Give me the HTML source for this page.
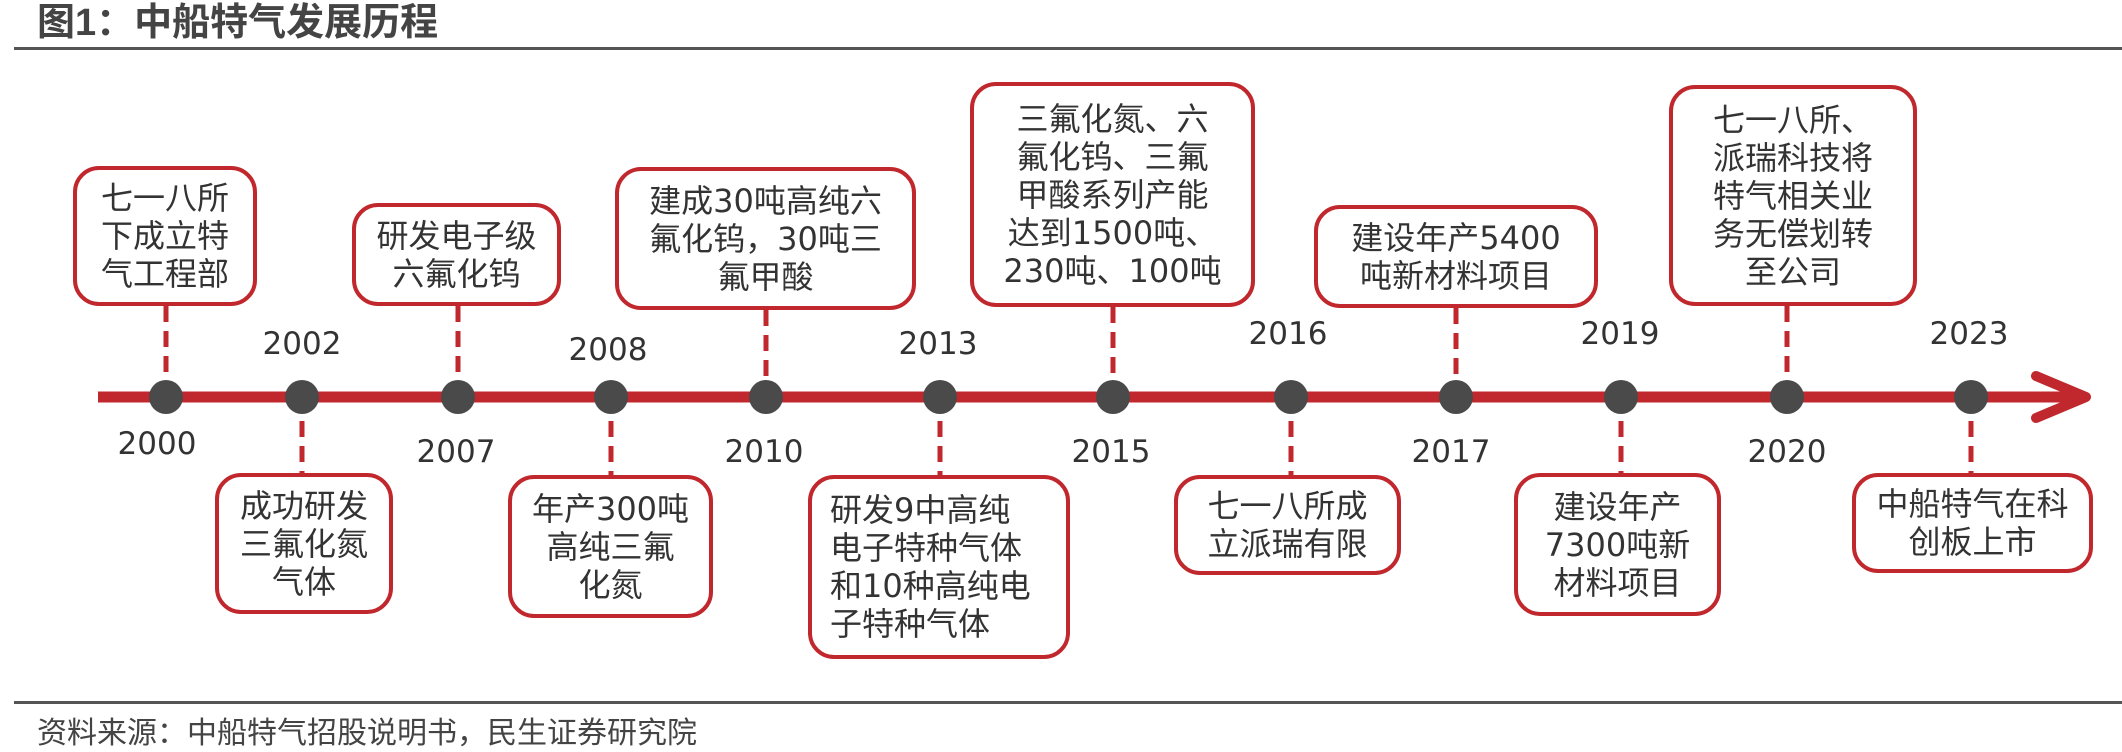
<!DOCTYPE html>
<html><head><meta charset="utf-8"><style>
body{margin:0;width:2122px;height:749px;background:#fff;position:relative;overflow:hidden;font-family:"Liberation Sans","Noto Sans CJK SC",sans-serif;}
.t{position:absolute;left:37px;top:0px;font-size:38px;line-height:46px;font-weight:bold;color:#444;}
.rule{position:absolute;left:14px;right:0;height:3px;background:#555;}
.f{position:absolute;left:37px;top:708px;font-size:30px;color:#444;}
.b{position:absolute;box-sizing:border-box;border:4px solid #c0282d;border-radius:26px;display:flex;align-items:center;justify-content:center;text-align:center;font-family:"DejaVu Sans","Noto Sans CJK SC",sans-serif;font-size:32px;line-height:38px;color:#333;background:#fff;}
.y{position:absolute;font-family:"DejaVu Sans",sans-serif;font-size:31px;color:#333;width:120px;margin-left:-60px;text-align:center;}
</style></head><body>
<div class="t">图1：中船特气发展历程</div>
<div class="rule" style="top:47px"></div>
<div class="rule" style="top:701px"></div>
<div class="f">资料来源：中船特气招股说明书，民生证券研究院</div>
<svg style="position:absolute;left:0;top:0" width="2122" height="749">
<g stroke="#c0282d" stroke-width="5" stroke-dasharray="16,9">
<line x1="166" y1="306" x2="166" y2="396"/>
<line x1="458" y1="306" x2="458" y2="396"/>
<line x1="766" y1="310" x2="766" y2="396"/>
<line x1="1113" y1="307" x2="1113" y2="396"/>
<line x1="1456" y1="308" x2="1456" y2="396"/>
<line x1="1787" y1="306" x2="1787" y2="396"/>
<line x1="302" y1="396" x2="302" y2="473"/>
<line x1="611" y1="396" x2="611" y2="475"/>
<line x1="940" y1="396" x2="940" y2="475"/>
<line x1="1291" y1="396" x2="1291" y2="475"/>
<line x1="1621" y1="396" x2="1621" y2="473"/>
<line x1="1971" y1="396" x2="1971" y2="473"/>
</g>
<line x1="98" y1="397" x2="2080" y2="397" stroke="#c0282d" stroke-width="11"/>
<polyline points="2036,376 2086,397 2036,418" fill="none" stroke="#c0282d" stroke-width="10" stroke-linecap="round" stroke-linejoin="round"/>
<g fill="#4a4a4a">
<circle cx="166" cy="397" r="17"/><circle cx="302" cy="397" r="17"/><circle cx="458" cy="397" r="17"/>
<circle cx="611" cy="397" r="17"/><circle cx="766" cy="397" r="17"/><circle cx="940" cy="397" r="17"/>
<circle cx="1113" cy="397" r="17"/><circle cx="1291" cy="397" r="17"/><circle cx="1456" cy="397" r="17"/>
<circle cx="1621" cy="397" r="17"/><circle cx="1787" cy="397" r="17"/><circle cx="1971" cy="397" r="17"/>
</g>
</svg>
<div class="y" style="left:302px;top:326px">2002</div>
<div class="y" style="left:608px;top:332px">2008</div>
<div class="y" style="left:938px;top:326px">2013</div>
<div class="y" style="left:1288px;top:316px">2016</div>
<div class="y" style="left:1620px;top:316px">2019</div>
<div class="y" style="left:1969px;top:316px">2023</div>
<div class="y" style="left:157px;top:426px">2000</div>
<div class="y" style="left:456px;top:434px">2007</div>
<div class="y" style="left:764px;top:434px">2010</div>
<div class="y" style="left:1111px;top:434px">2015</div>
<div class="y" style="left:1451px;top:434px">2017</div>
<div class="y" style="left:1787px;top:434px">2020</div>

<div class="b" style="left:73px;top:166px;width:184px;height:140px">七一八所<br>下成立特<br>气工程部</div>
<div class="b" style="left:352px;top:203px;width:209px;height:103px">研发电子级<br>六氟化钨</div>
<div class="b" style="left:615px;top:167px;width:301px;height:143px">建成30吨高纯六<br>氟化钨，30吨三<br>氟甲酸</div>
<div class="b" style="left:970px;top:82px;width:285px;height:225px">三氟化氮、六<br>氟化钨、三氟<br>甲酸系列产能<br>达到1500吨、<br>230吨、100吨</div>
<div class="b" style="left:1314px;top:205px;width:284px;height:103px">建设年产5400<br>吨新材料项目</div>
<div class="b" style="left:1669px;top:85px;width:248px;height:221px">七一八所、<br>派瑞科技将<br>特气相关业<br>务无偿划转<br>至公司</div>
<div class="b" style="left:215px;top:473px;width:178px;height:141px">成功研发<br>三氟化氮<br>气体</div>
<div class="b" style="left:508px;top:475px;width:205px;height:143px">年产300吨<br>高纯三氟<br>化氮</div>
<div class="b" style="left:808px;top:475px;width:262px;height:184px;text-align:left;justify-content:flex-start;padding-left:18px">研发9中高纯<br>电子特种气体<br>和10种高纯电<br>子特种气体</div>
<div class="b" style="left:1174px;top:475px;width:227px;height:100px">七一八所成<br>立派瑞有限</div>
<div class="b" style="left:1514px;top:473px;width:207px;height:143px">建设年产<br>7300吨新<br>材料项目</div>
<div class="b" style="left:1852px;top:473px;width:241px;height:100px">中船特气在科<br>创板上市</div>
</body></html>
